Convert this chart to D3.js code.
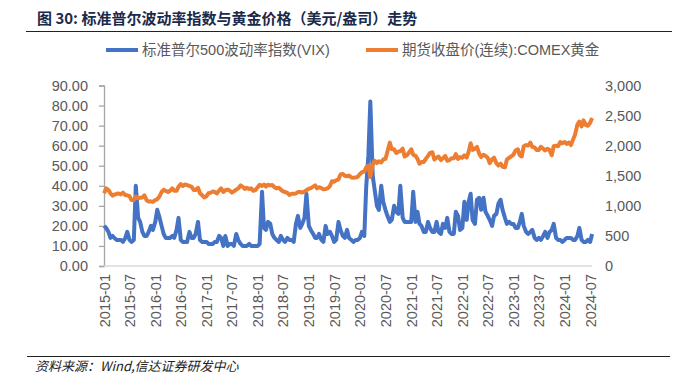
<!DOCTYPE html>
<html>
<head>
<meta charset="utf-8">
<script src="https://cdn.jsdelivr.net/npm/d3@7"></script>
<style>
body{margin:0;background:#fff}
svg text{font-family:"Liberation Sans",Arial,"Noto Sans CJK SC",sans-serif}
</style>
</head>
<body>
<div id="container"></div>
<script>
// two points per month (1st and 16th), 2015-01 .. 2024-07
var startYear = 2015
var vix = [
20,19, 17,14, 15,14, 13,13, 13,12, 14,17, 13,12, 13,40, 24,22, 17,15, 15,17, 20,18,
22,28, 24,20, 16,14, 14,14, 15,14, 18,24, 13,12, 12,12, 17,14, 14,16, 22,13, 12,12,
12,11, 11,11, 12,12, 15,14, 10,15, 10,11, 11,10, 16,13, 11,10, 10,10, 11,10, 10,10,
10,11, 37,19, 18,22, 21,16, 14,13, 12,15, 13,12, 14,13, 13,12, 21,25, 19,21, 24,36,
20,18, 16,14, 14,16, 13,12, 20,16, 17,15, 12,13, 22,18, 15,14, 18,14, 13,12, 13,13,
14,17, 15,40, 55,82, 45,38, 30,28, 40,32, 28,25, 22,23, 30,27, 26,40, 24,22, 22,22,
22,37, 22,27, 21,20, 17,17, 22,19, 17,17, 22,17, 16,21, 19,24, 17,16, 16,27, 25,18,
19,32, 23,32, 36,23, 21,33, 34,28, 34,27, 25,23, 20,25, 26,31, 33,28, 24,21, 22,21,
21,19, 19,22, 26,20, 17,16, 17,18, 14,13, 14,13, 15,17, 14,17, 18,21, 14,13, 13,12,
13,14, 14,14, 13,13, 15,19, 13,12, 12,13, 12,16
]
var gold = [
1210,1290, 1260,1210, 1170,1185, 1200,1205, 1190,1220, 1180,1175, 1160,1095, 1095,1155, 1125,1135, 1140,1175, 1090,1070, 1075,1065,
1095,1110, 1160,1230, 1265,1250, 1230,1250, 1290,1250, 1250,1320, 1360,1330, 1355,1345, 1330,1320, 1265,1265, 1300,1210, 1175,1140,
1160,1210, 1220,1240, 1230,1205, 1255,1290, 1230,1260, 1270,1255, 1220,1240, 1270,1290, 1340,1320, 1280,1300, 1280,1290, 1250,1260,
1310,1350, 1330,1355, 1320,1350, 1340,1345, 1310,1290, 1300,1270, 1240,1230, 1215,1180, 1200,1200, 1205,1230, 1230,1220, 1240,1260,
1285,1295, 1320,1340, 1290,1310, 1295,1275, 1280,1290, 1330,1410, 1400,1425, 1440,1520, 1530,1500, 1490,1505, 1470,1465, 1470,1480,
1530,1560, 1570,1640, 1670,1480, 1680,1750, 1710,1740, 1720,1770, 1780,1900, 2050,1940, 1940,1880, 1900,1910, 1950,1820, 1840,1880,
1940,1850, 1830,1780, 1700,1730, 1730,1780, 1830,1880, 1890,1770, 1800,1820, 1760,1790, 1830,1750, 1760,1790, 1790,1860, 1780,1810,
1800,1840, 1800,1900, 2040,1930, 1950,1980, 1870,1810, 1850,1830, 1800,1710, 1770,1800, 1710,1670, 1700,1650, 1640,1770, 1800,1820,
1850,1920, 1940,1840, 1820,1990, 2010,2000, 2050,1980, 1970,1930, 1930,1980, 1950,1920, 1950,1930, 1840,1990, 2000,1990, 2060,2040,
2060,2030, 2050,2010, 2100,2180, 2350,2400, 2320,2420, 2340,2330, 2380,2460
]
var leftTicks = [0,10,20,30,40,50,60,70,80,90]
var rightTicks = [0,500,1000,1500,2000,2500,3000]
var xTickLabels = ["2015-01","2015-07","2016-01","2016-07","2017-01","2017-07","2018-01","2018-07","2019-01","2019-07",
  "2020-01","2020-07","2021-01","2021-07","2022-01","2022-07","2023-01","2023-07","2024-01","2024-07"]
var seriesNames = ["标准普尔500波动率指数(VIX)","期货收盘价(连续):COMEX黄金"]
var colors = ["#4472C4","#ED7D31"]

var w = 686, h = 378
var pLeft = 104, pRight = 590, pTop = 85.5, pBottom = 266

var dates = vix.map(function(d,i){
  return new Date(startYear, Math.floor(i/2), i%2==0 ? 2 : 16)
})
var parse = d3.timeParse("%Y-%m")

var xScale = d3.scaleTime().domain([parse("2015-01"),parse("2024-07")]).range([pLeft,pRight])
var yL = d3.scaleLinear().domain([0,90]).range([pBottom,pTop])
var yR = d3.scaleLinear().domain([0,3000]).range([pBottom,pTop])

var svg = d3.select("#container").append("svg").attr("width",w).attr("height",h)

// title
svg.append("text").text("图 30:  标准普尔波动率指数与黄金价格（美元/盎司）走势")
  .attr("x",37).attr("y",24).attr("font-size","15px").attr("font-weight","bold")
  .attr("fill","#1b2a4a").style("font-family","'Noto Sans CJK SC',sans-serif")
svg.append("line").attr("x1",26).attr("x2",672).attr("y1",31.5).attr("y2",31.5)
  .attr("stroke","#222").attr("stroke-width",1.2)

// legend
var legX = [106,366]
seriesNames.forEach(function(n,i){
  svg.append("line").attr("x1",legX[i]).attr("x2",legX[i]+32).attr("y1",50).attr("y2",50)
    .attr("stroke",colors[i]).attr("stroke-width",4)
  svg.append("text").text(n).attr("x",legX[i]+36).attr("y",55)
    .attr("font-size","14.5px").attr("fill","#595959")
})

// left axis
var yAxisL = d3.axisLeft(yL).tickValues(leftTicks).tickFormat(d3.format(".2f")).tickSize(5).tickPadding(11)
var gL = svg.append("g").attr("transform","translate("+pLeft+",0)").call(yAxisL)
gL.select(".domain").attr("stroke","#a6a6a6").attr("stroke-width",1.3)
gL.selectAll(".tick line").attr("stroke","#a6a6a6").attr("stroke-width",1.3)
gL.selectAll("text").attr("font-size","14.5px").attr("fill","#595959")

// right axis
var yAxisR = d3.axisRight(yR).tickValues(rightTicks).tickFormat(d3.format(",")).tickSize(0).tickPadding(12)
var gR = svg.append("g").attr("transform","translate(593,0)").call(yAxisR)
gR.select(".domain").remove()
gR.selectAll("text").attr("font-size","14.5px").attr("fill","#595959")

// x axis
var xAxis = d3.axisBottom(xScale).tickValues(xTickLabels.map(parse)).tickFormat(d3.timeFormat("%Y-%m")).tickSize(0).tickPadding(0)
var gX = svg.append("g").attr("transform","translate(0,"+pBottom+")").call(xAxis)
gX.select(".domain").remove()
gX.selectAll("text").attr("font-size","14.5px").attr("fill","#595959")
  .attr("text-anchor","end").attr("transform","rotate(-90)")
  .attr("x",-8).attr("y",0).attr("dy","0.35em")
svg.append("line").attr("x1",pLeft).attr("x2",xScale(dates[dates.length-1]))
  .attr("y1",pBottom).attr("y2",pBottom).attr("stroke","#d9d9d9").attr("stroke-width",1.5)

// lines
svg.append("path").attr("fill","none").attr("stroke",colors[0]).attr("stroke-width",4)
  .attr("stroke-linejoin","round")
  .attr("d",d3.line().x(function(d,i){return xScale(dates[i])}).y(function(d){return yL(d)})(vix))
svg.append("path").attr("fill","none").attr("stroke",colors[1]).attr("stroke-width",4)
  .attr("stroke-linejoin","round")
  .attr("d",d3.line().x(function(d,i){return xScale(dates[i])}).y(function(d){return yR(d)})(gold))

// footer
svg.append("line").attr("x1",27).attr("x2",670).attr("y1",356.5).attr("y2",356.5)
  .attr("stroke","#222").attr("stroke-width",1.2)
svg.append("text").text("资料来源：Wind,信达证券研发中心").attr("x",35).attr("y",371)
  .attr("font-size","13px").attr("font-style","italic").attr("fill","#222")
  .style("font-family","'Noto Sans CJK SC',sans-serif")
</script>
</body>
</html>
